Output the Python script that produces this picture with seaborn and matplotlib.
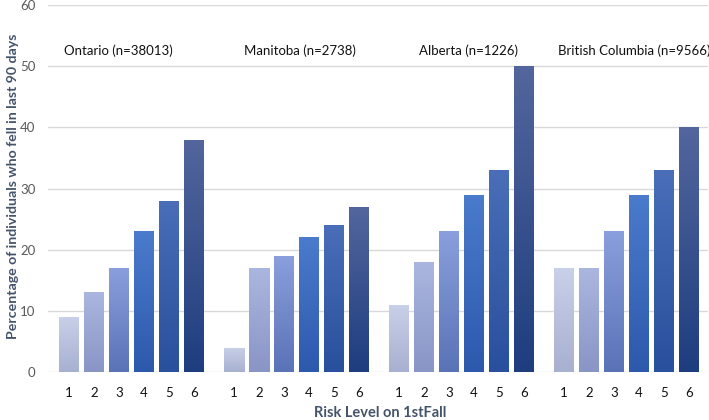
import numpy as np
import pandas as pd
import matplotlib
matplotlib.use("Agg")
import matplotlib.pyplot as plt
import matplotlib.colors as mcolors
import seaborn as sns

# ---- data ----
groups = ["Ontario (n=38013)", "Manitoba (n=2738)", "Alberta (n=1226)", "British Columbia (n=9566)"]
levels = ["1", "2", "3", "4", "5", "6"]
ontario = [9, 13, 17, 23, 28, 38]
manitoba = [4, 17, 19, 22, 24, 27]
alberta = [11, 18, 23, 29, 33, 50]
british_columbia = [17, 17, 23, 29, 33, 40]
y_ticks = [0, 10, 20, 30, 40, 50, 60]
x_title = "Risk Level on 1stFall"
y_title = "Percentage of individuals who fell in last 90 days"

# gradient colours per risk level (top, bottom)
grad_top = ["#c9d0e9", "#abb6e0", "#8a9fdc", "#4b7bcc", "#4a6eb8", "#53669d"]
grad_bot = ["#a8b0d1", "#8995c5", "#5a73b7", "#2d59ad", "#29509d", "#1e3d7f"]

GROUP_STEP = 6.6
series = [ontario, manitoba, alberta, british_columbia]
rows = []
for g, (name, vals) in enumerate(zip(groups, series)):
    for i, (lv, v) in enumerate(zip(levels, vals)):
        rows.append({"group": name, "level": lv, "value": v, "pos": g * GROUP_STEP + i})
df = pd.DataFrame(rows)

sns.set_theme(style="white")
plt.rcParams["font.family"] = ["Lato", "DejaVu Sans"]

fig = plt.figure(figsize=(7.09, 4.20), dpi=100)
ax = fig.add_axes([48 / 709, 48 / 420, 660 / 709, 367 / 420])

palette = {lv: c for lv, c in zip(levels, grad_top)}
sns.barplot(data=df, x="pos", y="value", hue="level", hue_order=levels,
            palette=palette, native_scale=True, dodge=False, width=0.8,
            legend=False, ax=ax, saturation=1, linewidth=0)

# vertical gradients clipped to each bar
for k, cont in enumerate(ax.containers):
    cmap = mcolors.LinearSegmentedColormap.from_list(
        f"g{k}", [grad_bot[k], grad_top[k]])
    grad = np.linspace(0, 1, 256).reshape(-1, 1)
    for bar in cont:
        x0 = bar.get_x()
        w = bar.get_width()
        h = bar.get_height()
        im = ax.imshow(grad, cmap=cmap, origin="lower", aspect="auto",
                       extent=[x0, x0 + w, 0, h], zorder=bar.get_zorder() + 0.1)
        im.set_clip_path(bar)

ax.set_xlim(-0.84, 25.56)
ax.set_ylim(0, 60)
ax.set_yticks(y_ticks)
ax.set_xticks(df["pos"].tolist(), df["level"].tolist())
ax.yaxis.grid(True, color="#d9d9d9", linewidth=1.0)
ax.set_axisbelow(True)
for s in ax.spines.values():
    s.set_visible(False)
ax.tick_params(axis="both", length=0)
ax.tick_params(axis="y", colors="#595959", labelsize=9.5, pad=9)
ax.tick_params(axis="x", colors="#111111", labelsize=9.5, pad=11)

ax.set_xlabel(x_title, fontsize=10.5, fontweight="bold", color="#44546a")
ax.set_ylabel(y_title, fontsize=10.2, fontweight="bold", color="#44546a")
ax.xaxis.set_label_coords((380 - 48) / 660, (14 - 48) / 367)
ax.yaxis.set_label_coords((19 - 48) / 660, (420 - 186 - 48) / 367)

label_x = [-0.2, 7.0, 14.0, 19.56]
for name, lx in zip(groups, label_x):
    ax.text(lx, 52.6, name, fontsize=9.5, color="#111111", ha="left", va="center")

fig.savefig("out.png", dpi=100)
